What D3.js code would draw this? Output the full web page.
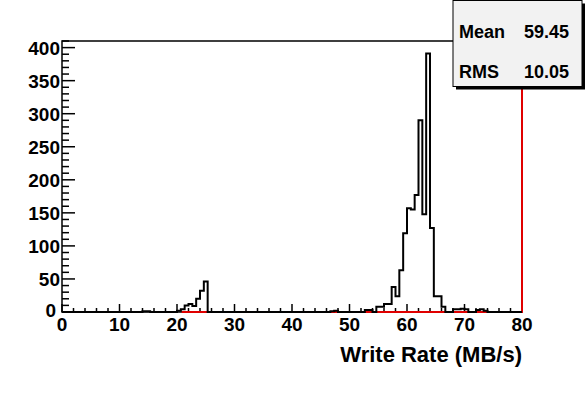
<!DOCTYPE html>
<html><head><meta charset="utf-8">
<script src="https://cdn.jsdelivr.net/npm/d3@7"></script>
<style>
html,body{margin:0;padding:0;background:#fff;}
svg text{font-family:"Liberation Sans",Arial,sans-serif;font-weight:bold;}
</style></head>
<body><svg id="c" width="587" height="394"></svg>
<script>
// Histogram: 120 bins from 0 to 80 MB/s
const binLow = 0, binHigh = 80, nBins = 120;
const nonZeroBins = [21,22,30,31,32,33,34,35,36,37,70,71,79,80,82,83,84,85,86,87,88,89,90,91,92,93,94,95,96,97,98,99,102,103,104,105,108,109,110];
const nonZeroCounts = [1,1,2,4,10,12,9,20,32,46,1,2,3,3,8,8,12,12,38,24,63,119,157,155,177,290,148,391,127,24,24,8,4,4,5,4,3,4,2];
const fitX = [20.8, 80, 80];
const fitY = [0, 0, 410];
const xTicks = [0,10,20,30,40,50,60,70,80];
const yTicks = [0,50,100,150,200,250,300,350,400];
const statLabels = ["Mean","RMS"];
const statValues = ["59.45","10.05"];
const xTitle = "Write Rate (MB/s)";
const yMax = 410;

const counts = new Array(nBins).fill(0);
nonZeroBins.forEach((b,i)=>counts[b]=nonZeroCounts[i]);
const bw = (binHigh-binLow)/nBins;

const svg = d3.select("#c");
const L=62,R=522,T=41,B=312;
const x = d3.scaleLinear().domain([binLow,binHigh]).range([L,R]);
const y = d3.scaleLinear().domain([0,yMax]).range([B,T]);

// frame
svg.append("rect").attr("x",L).attr("y",T).attr("width",R-L).attr("height",B-T)
  .attr("fill","none").attr("stroke","#000").attr("stroke-width",1.5);

// x axis ticks (inside)
const xMinor = d3.range(0,81,2);
svg.append("g").selectAll("line").data(xMinor).join("line")
  .attr("x1",d=>x(d)).attr("x2",d=>x(d)).attr("y1",B)
  .attr("y2",d=>B-(d%10===0?8:4)).attr("stroke","#000").attr("stroke-width",1.5);
svg.append("g").selectAll("text").data(xTicks).join("text")
  .attr("x",d=>x(d)).attr("y",331).attr("text-anchor","middle")
  .attr("font-size",19).text(d=>d);

// y axis ticks
const yMinor = d3.range(0,411,10);
svg.append("g").selectAll("line").data(yMinor).join("line")
  .attr("y1",d=>y(d)).attr("y2",d=>y(d)).attr("x1",L)
  .attr("x2",d=>L+(d%50===0?13:7)).attr("stroke","#000").attr("stroke-width",1.5);
svg.append("g").selectAll("text").data(yTicks).join("text")
  .attr("x",d=>d===0?56:60).attr("y",d=>y(d)+(d===0?5:7)).attr("text-anchor","end")
  .attr("font-size",19).text(d=>d);

svg.append("text").attr("x",R).attr("y",362).attr("text-anchor","end")
  .attr("font-size",22).text(xTitle);

// red fit line
const fitLine = d3.line().x(d=>x(d[0])).y(d=>y(d[1]));
svg.append("path").attr("d",fitLine(fitX.map((v,i)=>[v,fitY[i]])))
  .attr("fill","none").attr("stroke","#e00000").attr("stroke-width",2);

// histogram
const pts = counts.map((c,i)=>[binLow+i*bw,c]);
pts.push([binHigh,counts[nBins-1]]);
const hline = d3.line().x(d=>x(d[0])).y(d=>y(d[1])).curve(d3.curveStepAfter);
svg.append("path").attr("d",hline(pts)).attr("fill","none")
  .attr("stroke","#000").attr("stroke-width",2);

// stats box
const bx=453,by=0.5,bwid=129,bh=86;
svg.append("rect").attr("x",bx+3).attr("y",by+3).attr("width",bwid).attr("height",bh).attr("fill","#000");
svg.append("rect").attr("x",bx).attr("y",by).attr("width",bwid).attr("height",bh)
  .attr("fill","#f2f2f2").attr("stroke","#000").attr("stroke-width",1);
statLabels.forEach((s,i)=>{
  svg.append("text").attr("x",bx+6).attr("y",by+37+i*40).attr("font-size",18).text(s);
  svg.append("text").attr("x",bx+bwid-13).attr("y",by+37+i*40).attr("text-anchor","end").attr("font-size",18).text(statValues[i]);
});
</script></body></html>
